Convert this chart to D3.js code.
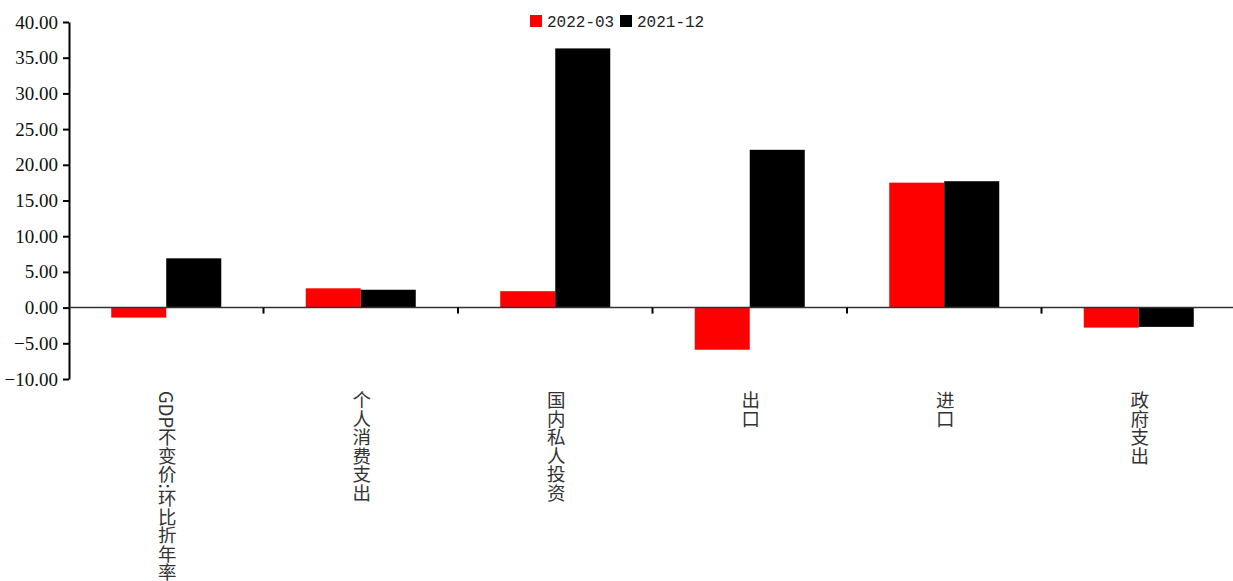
<!DOCTYPE html>
<html><head><meta charset="utf-8">
<script src="https://cdn.jsdelivr.net/npm/d3@7"></script>
<style>body{margin:0;background:#fff;} svg{display:block;}</style>
</head><body>
<svg id="c" width="1233" height="581"></svg>
<script>
const categories = ["GDP不变价:环比折年率", "个人消费支出", "国内私人投资", "出口", "进口", "政府支出"];
const seriesNames = ["2022-03", "2021-12"];
const series2022_03 = [-1.4, 2.7, 2.3, -5.9, 17.5, -2.8];
const series2021_12 = [6.9, 2.5, 36.3, 22.1, 17.7, -2.7];
const seriesColors = ["#ff0000", "#000000"];
const yTicks = [-10, -5, 0, 5, 10, 15, 20, 25, 30, 35, 40];

const svg = d3.select("#c");
const mLeft = 69, mRight = 69 + 6 * 194.5, mTop = 22, mBottom = 379;

const y = d3.scaleLinear().domain([-10, 40]).range([mBottom, mTop]);
const x0 = d3.scaleBand().domain(categories).range([mLeft, mRight]).padding(0);
const x1 = d3.scaleBand().domain(seriesNames).range([0, x0.bandwidth()]).paddingInner(0).paddingOuter(0.768);

const data = categories.map((c, i) => ({cat: c, vals: [series2022_03[i], series2021_12[i]]}));

// bars
const g = svg.append("g");
data.forEach(d => {
  d.vals.forEach((v, j) => {
    g.append("rect")
      .attr("x", x0(d.cat) + x1(seriesNames[j]))
      .attr("y", y(Math.max(0, v)))
      .attr("width", x1.bandwidth())
      .attr("height", Math.abs(y(v) - y(0)))
      .attr("fill", seriesColors[j]);
  });
});

// y axis
const yAxis = svg.append("g").attr("transform", `translate(${mLeft},0)`)
  .call(d3.axisLeft(y).tickValues(yTicks).tickFormat(d3.format(".2f")).tickSize(6).tickSizeOuter(0));
yAxis.select(".domain").attr("stroke", "#000").attr("stroke-width", 2);
yAxis.selectAll(".tick line").attr("stroke", "#000").attr("stroke-width", 2);
yAxis.selectAll(".tick text").attr("font-family", "'Liberation Serif', serif").attr("font-size", 19).attr("fill", "#111").attr("x", -11);

// x axis at zero
const y0 = y(0);
svg.append("line").attr("x1", mLeft).attr("x2", 1233).attr("y1", y0).attr("y2", y0)
  .attr("stroke", "#333").attr("stroke-width", 1.5);
categories.forEach(c => {
  const bx = x0(c) + x0.step();
  svg.append("line").attr("x1", bx).attr("x2", bx).attr("y1", y0).attr("y2", y0 + 6)
    .attr("stroke", "#000").attr("stroke-width", 2);
});

// category labels (vertical)
categories.forEach(c => {
  svg.append("text")
    .attr("x", x0(c) + x0.bandwidth() / 2 + 1)
    .attr("y", 391)
    .attr("style", "writing-mode: vertical-rl; text-orientation: mixed;")
    .attr("font-family", "'Noto Sans CJK SC', sans-serif")
    .attr("font-size", 18.5)
    .attr("fill", "#333")
    .text(c);
});

// legend
const lg = svg.append("g");
const legendX = [530, 620];
seriesNames.forEach((s, j) => {
  lg.append("rect").attr("x", legendX[j]).attr("y", 15).attr("width", 12).attr("height", 12).attr("fill", seriesColors[j]);
  lg.append("text").attr("x", legendX[j] + 17).attr("y", 27)
    .attr("font-family", "'Liberation Mono', 'DejaVu Sans Mono', monospace")
    .attr("font-size", 16).attr("fill", "#222").text(s);
});
</script>
</body></html>
